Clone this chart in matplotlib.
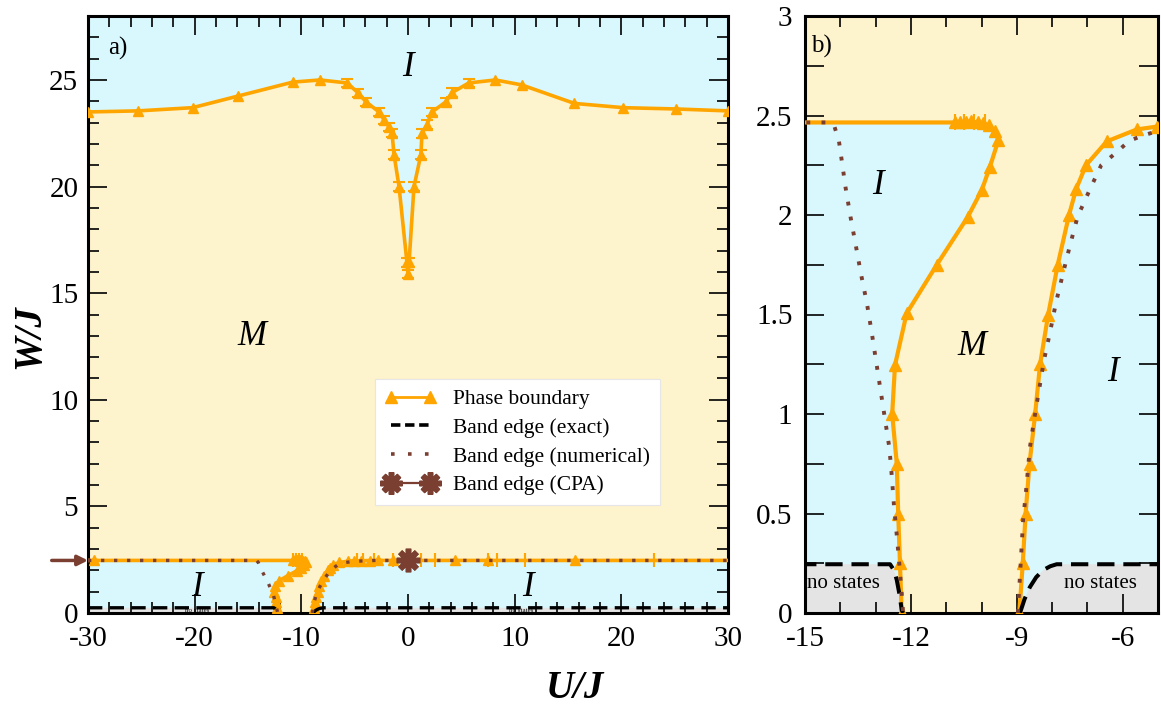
import matplotlib
matplotlib.use('Agg')
import matplotlib.pyplot as plt
from matplotlib.ticker import MultipleLocator, FormatStrFormatter
from matplotlib.lines import Line2D

plt.rcParams['font.family'] = ['Liberation Serif', 'DejaVu Serif']
plt.rcParams['axes.unicode_minus'] = False

# ---------------- data ----------------
# upper phase boundary (I above, M below)
up_U = [-30, -25.3, -20.2, -15.9, -10.8, -8.25, -5.7, -4.67, -3.93, -2.71, -2.24, -1.78, -1.5,
        -1.31, -0.84, -0.1, 0.0, 0.1, 0.56, 1.21, 1.31, 1.78, 2.24, 3.55, 4.1, 5.7, 8.2,
        10.65, 15.6, 20.2, 25.1, 30]
up_W = [23.5, 23.55, 23.7, 24.25, 24.9, 25.0, 24.86, 24.39, 23.97, 23.5, 23.13, 22.8, 22.52,
        21.5, 20.0, 16.45, 15.9, 16.45, 20.0, 21.5, 22.5, 22.9, 23.5, 23.97, 24.4, 24.86, 25.0,
        24.77, 23.9, 23.7, 23.64, 23.55]

# lower-left phase boundary
L_U = [-30, -29.4, -10.75, -10.6, -10.45, -10.3, -10.1, -9.95, -9.8, -9.62, -9.52, -9.76,
       -9.99, -10.39, -11.27, -12.12, -12.45, -12.53, -12.40, -12.36, -12.31, -12.26]
L_W = [2.465, 2.465, 2.465, 2.465, 2.465, 2.47, 2.465, 2.46, 2.45, 2.42, 2.377, 2.243,
       2.126, 1.99, 1.749, 1.506, 1.246, 1.0, 0.75, 0.5, 0.25, 0.0]

# lower-right phase boundary
R_U = [-8.93, -8.83, -8.75, -8.64, -8.48, -8.34, -8.11, -7.84, -7.52, -7.32, -7.04, -6.45,
       -5.60, -5.04, -4.4, -3.6, -2.8, -1.4, 0.0, 4.4, 7.5, 15.7, 30]
R_W = [0.0, 0.25, 0.5, 0.75, 1.0, 1.25, 1.5, 1.75, 2.0, 2.13, 2.25, 2.37,
       2.43, 2.444, 2.455, 2.46, 2.465, 2.465, 2.465, 2.465, 2.465, 2.465, 2.465]

# positions of error-bar caps along the lower boundary
cap_U = [-10.75, -10.5, -10.2, -9.9, -4.8, -4.2, -3.2, -1.4,
         1.2, 2.5, 7.5, 8.3, 11.0, 23.1]
cap_W = 2.465

# band edge (numerical)
NL_U = [-30, -14.3, -14.17, -14.04, -13.98, -13.85, -13.71, -13.56, -13.41, -13.25, -13.11,
        -12.99, -12.86, -12.73, -12.61, -12.54, -12.48, -12.40, -12.33, -12.26, -12.22]
NL_W = [2.465, 2.465, 2.447, 2.373, 2.30, 2.137, 1.99, 1.846, 1.70, 1.56, 1.41,
        1.27, 1.12, 0.97, 0.83, 0.685, 0.54, 0.39, 0.25, 0.10, 0.0]
NR_U = [-8.97, -8.89, -8.82, -8.74, -8.63, -8.51, -8.37, -8.23, -8.06, -7.89, -7.70, -7.49,
        -7.28, -7.08, -6.90, -6.61, -6.21, -5.81, -5.42, -5.04, -4.0, -3.0, 30]
NR_W = [0.0, 0.25, 0.47, 0.61, 0.83, 0.97, 1.12, 1.27, 1.41, 1.56, 1.70, 1.85,
        1.99, 2.07, 2.14, 2.25, 2.31, 2.373, 2.40, 2.42, 2.45, 2.465, 2.465]

# band edge (exact)
EL_U = [-30, -12.59, -12.48, -12.40, -12.32, -12.26, -12.22]
EL_W = [0.245, 0.245, 0.215, 0.166, 0.09, 0.015, 0.0]
ER_U = [-8.91, -8.78, -8.63, -8.45, -8.25, -8.05, -7.87, 30]
ER_W = [0.0, 0.07, 0.13, 0.18, 0.216, 0.235, 0.245, 0.245]

# band edge (CPA)
cpa_U = [0.0]
cpa_W = [2.465]

legend_labels = ['Phase boundary', 'Band edge (exact)', 'Band edge (numerical)', 'Band edge (CPA)']

# ---------------- style ----------------
BLUE = '#d8f8fd'
YEL = '#fdf3cc'
GRAY = '#e4e4e4'
ORANGE = '#ffa500'
BROWN = '#7b3f32'

W_, H_ = 1161, 711
fig = plt.figure(figsize=(W_ / 100, H_ / 100), dpi=100)
axA = fig.add_axes([88 / W_, 98 / H_, 640 / W_, 597 / H_])
axB = fig.add_axes([805 / W_, 98 / H_, 353 / W_, 597 / H_])


def draw(ax, ymax, lw, ms, dlw, elw):
    ax.set_facecolor(YEL)
    ax.fill_between(up_U, up_W, ymax, color=BLUE, lw=0, zorder=0.5)
    ax.fill([-30] + L_U, [0] + L_W, color=BLUE, lw=0, zorder=0.5)
    ax.fill(R_U + [30], R_W + [0], color=BLUE, lw=0, zorder=0.5)
    ax.fill([-30] + EL_U, [0] + EL_W, color=GRAY, lw=0, zorder=0.6)
    ax.fill(ER_U + [30], ER_W + [0], color=GRAY, lw=0, zorder=0.6)

    # phase boundaries
    ax.plot(up_U, up_W, color=ORANGE, lw=lw, marker='^', ms=ms, zorder=3)
    dipU = [u for u in up_U if abs(u) < 6]
    dipW = [w for u, w in zip(up_U, up_W) if abs(u) < 6]
    ax.errorbar(dipU, dipW, yerr=0.2, fmt='none', ecolor=ORANGE, capsize=4,
                elinewidth=1.5, capthick=1.5, zorder=3)
    ax.plot(L_U, L_W, color=ORANGE, lw=lw, marker='^', ms=ms,
            markevery=list(range(1, len(L_U))), zorder=3)
    ax.plot(R_U, R_W, color=ORANGE, lw=lw, marker='^', ms=ms,
            markevery=list(range(0, len(R_U) - 1)), zorder=3)
    ax.plot(cap_U, [cap_W] * len(cap_U), ls='none', marker='|', ms=ms + 3,
            mew=1.5, color=ORANGE, zorder=3)

    # band edges
    ax.plot(EL_U, EL_W, color='k', lw=elw, dashes=(4.3, 2.2), zorder=4)
    ax.plot(ER_U, ER_W, color='k', lw=elw, dashes=(4.3, 2.2), zorder=4)
    ax.plot(NL_U, NL_W, color=BROWN, lw=dlw, dashes=(1, 2.9), zorder=5)
    ax.plot(NR_U, NR_W, color=BROWN, lw=dlw, dashes=(1, 2.9), zorder=5)

    for s in ax.spines.values():
        s.set_linewidth(2.2)
    ax.tick_params(which='both', direction='in', top=True, right=True,
                   labelsize=21, width=1.2, pad=7)
    ax.tick_params(which='major', length=14)
    ax.tick_params(which='minor', length=8)


# ---------- panel a ----------
draw(axA, 28, 2.6, 7, 2.4, 2.4)
axA.plot(cpa_U, cpa_W, color=BROWN, ls='none', marker=(8, 2, 0), ms=17, mew=4, zorder=6)
axA.set_xlim(-30, 30)
axA.set_ylim(0, 28)
axA.xaxis.set_major_locator(MultipleLocator(10))
axA.xaxis.set_minor_locator(MultipleLocator(2))
axA.yaxis.set_major_locator(MultipleLocator(5))
axA.yaxis.set_minor_locator(MultipleLocator(1))
axA.tick_params(axis='x', which='both', pad=9)
axA.annotate('', xy=(-30, 2.465), xytext=(-33.4, 2.465), annotation_clip=False,
             arrowprops=dict(arrowstyle='-|>,head_length=0.6,head_width=0.3',
                             color=BROWN, lw=2.5, shrinkA=0, shrinkB=0))

axA.text(-27.2, 26.5, 'a)', fontsize=18, ha='center', va='center')
axA.text(0, 25.6, 'I', fontsize=25, style='italic', ha='center', va='center')
axA.text(-14.6, 12.95, 'M', fontsize=25, style='italic', ha='center', va='center')
axA.text(-19.8, 1.2, 'I', fontsize=25, style='italic', ha='center', va='center')
axA.text(11.2, 1.2, 'I', fontsize=25, style='italic', ha='center', va='center')
axA.text(-19.8, 0.02, 'no states', fontsize=5, ha='center', va='bottom', zorder=7)
axA.text(10.6, 0.02, 'no states', fontsize=5, ha='center', va='bottom', zorder=7)

h1 = Line2D([], [], color=ORANGE, lw=2, marker='^', ms=9)
h2 = Line2D([], [], color='k', lw=2.6, dashes=(2.6, 1.3))
h3 = Line2D([], [], color=BROWN, lw=2.6, dashes=(1, 3.7))
h4 = Line2D([], [], color=BROWN, lw=1.6, marker=(8, 2, 0), ms=16, mew=4)
leg = axA.legend([h1, h2, h3, h4], legend_labels, loc='lower left',
                 bbox_to_anchor=(0.448, 0.181), borderaxespad=0, fontsize=15.5,
                 numpoints=2, handlelength=2.4, handletextpad=0.8, labelspacing=0.4,
                 borderpad=0.45, frameon=True, fancybox=False, framealpha=1,
                 edgecolor='#e6e6e6')
leg.get_frame().set_linewidth(0.8)
leg.set_zorder(10)

# ---------- panel b ----------
draw(axB, 3, 3.0, 8, 2.8, 2.9)
axB.set_xlim(-15, -5)
axB.set_ylim(0, 3)
axB.xaxis.set_major_locator(MultipleLocator(3))
axB.xaxis.set_minor_locator(MultipleLocator(1))
axB.yaxis.set_major_locator(MultipleLocator(0.5))
axB.yaxis.set_minor_locator(MultipleLocator(0.25))
axB.yaxis.set_major_formatter(FormatStrFormatter('%g'))
axB.tick_params(axis='y', which='minor', length=14)
axB.tick_params(axis='y', which='both', pad=9)
axB.tick_params(axis='x', which='both', pad=9)

axB.text(-14.52, 2.845, 'b)', fontsize=18, ha='center', va='center')
axB.text(-12.93, 2.15, 'I', fontsize=25, style='italic', ha='center', va='center')
axB.text(-10.27, 1.337, 'M', fontsize=25, style='italic', ha='center', va='center')
axB.text(-6.27, 1.21, 'I', fontsize=25, style='italic', ha='center', va='center')
axB.text(-13.92, 0.15, 'no states', fontsize=15, ha='center', va='center', zorder=7)
axB.text(-6.64, 0.15, 'no states', fontsize=15, ha='center', va='center', zorder=7)

# axis labels
fig.text(30 / W_, 1 - 337 / H_, 'W/J', fontsize=28, style='italic', weight='bold',
         rotation=90, ha='center', va='center')
fig.text(575 / W_, 1 - 688 / H_, 'U/J', fontsize=28, style='italic', weight='bold',
         ha='center', va='center')

fig.savefig('out.png', dpi=100)
